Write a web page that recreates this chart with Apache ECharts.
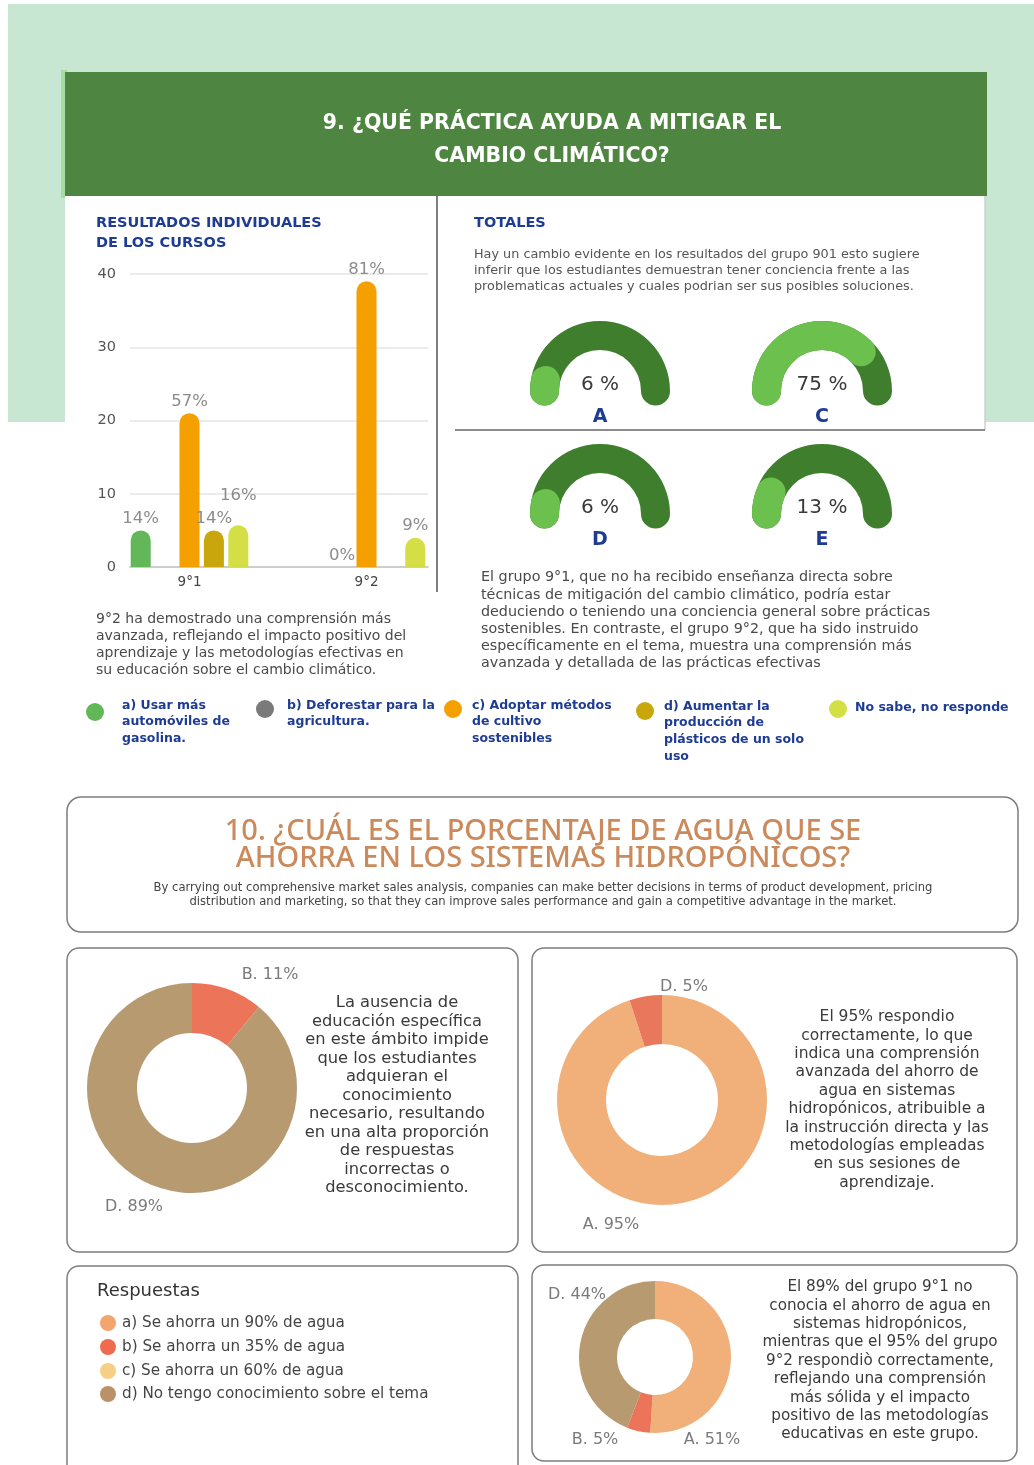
<!DOCTYPE html>
<html>
<head>
<meta charset="utf-8">
<script src="https://cdn.jsdelivr.net/npm/echarts@6/dist/echarts.min.js"></script>
<style>
html,body{margin:0;padding:0;background:#ffffff;}
#main{width:1034px;height:1465px;}
</style>
</head>
<body>
<div id="main"></div>
<script>
// ---------- DATA ----------
const categories = ['9°1', '9°2'];
const barSeriesNames = ['a) Usar más automóviles de gasolina.', 'b) Deforestar para la agricultura.', 'c) Adoptar métodos de cultivo sostenibles', 'd) Aumentar la producción de plásticos de un solo uso', 'No sabe, no responde'];
const valuesA = [5, 0];
const valuesB = [0, 0];
const valuesC = [21, 39];
const valuesD = [5, 0];
const valuesE = [5.7, 4];
const labelsA = ['14%', ''];
const labelsB = ['', '0%'];
const labelsC = ['57%', '81%'];
const labelsD = ['14%', ''];
const labelsE = ['16%', '9%'];
const yTicks = [0, 10, 20, 30, 40];

const gaugeNames = ['A', 'C', 'D', 'E'];
const gaugeValues = [6, 75, 6, 13];

const pie1Names = ['B', 'D'];
const pie1Values = [11, 89];
const pie2Names = ['A', 'D'];
const pie2Values = [95, 5];
const pie3Names = ['A', 'B', 'D'];
const pie3Values = [51, 5, 44];

const respuestas = ['a) Se ahorra un 90% de agua', 'b) Se ahorra un 35% de agua', 'c) Se ahorra un 60% de agua', 'd) No tengo conocimiento sobre el tema'];

// ---------- STYLE ----------
const FONT = '"DejaVu Sans", "Noto Sans", sans-serif';
const NAVY = '#1f3c94';
const barColors = ['#62b858', '#7a7a7a', '#f4a000', '#c9a60c', '#d3df45'];
const pieColors = { A: '#f1b079', B: '#ec7458', D: '#b89a71' };
const pie2Colors = { A: '#f1b079', D: '#e9775c' };
const respColors = ['#f2a66e', '#ee6b4d', '#f6cf86', '#ba9169'];

function T(x, y, text, opt) {
  opt = opt || {};
  return {
    type: 'text', x: x, y: y, z: 100,
    style: {
      text: text,
      fill: opt.fill || '#444',
      font: (opt.weight || 'normal') + ' ' + (opt.size || 13) + 'px ' + (opt.family || FONT),
      align: opt.align || 'left',
      verticalAlign: opt.va || 'top',
      lineHeight: opt.lh || Math.round((opt.size || 13) * 1.3)
    }
  };
}
function R(x, y, w, h, opt) {
  opt = opt || {};
  return {
    type: 'rect', z: (opt.z !== undefined ? opt.z : -5),
    shape: { x: x, y: y, width: w, height: h, r: opt.r || 0 },
    style: { fill: opt.fill || 'none', stroke: opt.stroke || null, lineWidth: opt.lw || 0 }
  };
}
function L(x1, y1, x2, y2, color, w) {
  return { type: 'line', z: -2, shape: { x1: x1, y1: y1, x2: x2, y2: y2 }, style: { stroke: color, lineWidth: w } };
}
function C(cx, cy, r, color) {
  return { type: 'circle', z: 50, shape: { cx: cx, cy: cy, r: r }, style: { fill: color } };
}

const graphics = [
  R(8, 4, 1026, 418, { fill: '#c7e7d3', z: -10 }),
  R(61, 70, 6, 128, { fill: '#a6dca0', z: -9 }),
  R(65, 72, 922, 124, { fill: '#4e8540', z: -8 }),
  R(65, 196, 920, 560, { fill: '#ffffff', z: -8 }),
  L(985, 196, 985, 430, '#cfcfcf', 1.5),
  L(437, 196, 437, 592, '#555555', 1.5),
  L(455, 430, 985, 430, '#666666', 1.5),
  T(552, 140, '9. ¿QUÉ PRÁCTICA AYUDA A MITIGAR EL\nCAMBIO CLIMÁTICO?', { fill: '#ffffff', weight: 'bold', size: 20.5, align: 'center', va: 'middle', lh: 33 }),
  T(96, 213, 'RESULTADOS INDIVIDUALES\nDE LOS CURSOS', { fill: NAVY, weight: 'bold', size: 14.5, lh: 20 }),
  T(474, 213, 'TOTALES', { fill: NAVY, weight: 'bold', size: 14.5, lh: 20 }),
  T(474, 247, 'Hay un cambio evidente en los resultados del grupo 901 esto sugiere\ninferir que los estudiantes demuestran tener conciencia frente a las\nproblematicas actuales y cuales podrian ser sus posibles soluciones.', { size: 12.8, lh: 16, fill: '#555' }),
  T(96, 611, '9°2 ha demostrado una comprensión más\navanzada, reflejando el impacto positivo del\naprendizaje y las metodologías efectivas en\nsu educación sobre el cambio climático.', { size: 14, lh: 17, fill: '#4a4a4a' }),
  T(481, 569, 'El grupo 9°1, que no ha recibido enseñanza directa sobre\ntécnicas de mitigación del cambio climático, podría estar\ndeduciendo o teniendo una conciencia general sobre prácticas\nsostenibles. En contraste, el grupo 9°2, que ha sido instruido\nespecíficamente en el tema, muestra una comprensión más\navanzada y detallada de las prácticas efectivas', { size: 14.3, lh: 17.2, fill: '#4a4a4a' }),
  // legend row
  C(95, 712, 9, barColors[0]), T(122, 697, 'a) Usar más\nautomóviles de\ngasolina.', { fill: NAVY, weight: 'bold', size: 12.5, lh: 16.5 }),
  C(265, 709, 9, barColors[1]), T(287, 697, 'b) Deforestar para la\nagricultura.', { fill: NAVY, weight: 'bold', size: 12.5, lh: 16.5 }),
  C(453, 709, 9, barColors[2]), T(472, 697, 'c) Adoptar métodos\nde cultivo\nsostenibles', { fill: NAVY, weight: 'bold', size: 12.5, lh: 16.5 }),
  C(645, 711, 9, barColors[3]), T(664, 698, 'd) Aumentar la\nproducción de\nplásticos de un solo\nuso', { fill: NAVY, weight: 'bold', size: 12.5, lh: 16.8 }),
  C(838, 709, 9, barColors[4]), T(855, 699, 'No sabe, no responde', { fill: NAVY, weight: 'bold', size: 12.5, lh: 16.5 }),
  // section 10
  R(67, 797, 951, 135, { stroke: '#7d7d7d', lw: 1.5, r: 14, fill: '#ffffff' }),
  T(543, 818, '10. ¿CUÁL ES EL PORCENTAJE DE AGUA QUE SE\nAHORRA EN LOS SISTEMAS HIDROPÓNICOS?', { fill: '#cb8a5c', weight: '500', size: 29, family: '"Noto Sans", sans-serif', align: 'center', lh: 27 }),
  T(543, 881, 'By carrying out comprehensive market sales analysis, companies can make better decisions in terms of product development, pricing\ndistribution and marketing, so that they can improve sales performance and gain a competitive advantage in the market.', { fill: '#444', size: 11.6, align: 'center', lh: 14 }),
  R(67, 948, 451, 304, { stroke: '#7d7d7d', lw: 1.5, r: 12, fill: '#ffffff' }),
  R(532, 948, 485, 304, { stroke: '#7d7d7d', lw: 1.5, r: 12, fill: '#ffffff' }),
  R(67, 1266, 451, 215, { stroke: '#7d7d7d', lw: 1.5, r: 12, fill: '#ffffff' }),
  R(532, 1265, 485, 196, { stroke: '#7d7d7d', lw: 1.5, r: 12, fill: '#ffffff' }),
  T(397, 994, 'La ausencia de\neducación específica\nen este ámbito impide\nque los estudiantes\nadquieran el\nconocimiento\nnecesario, resultando\nen una alta proporción\nde respuestas\nincorrectas o\ndesconocimiento.', { size: 16.3, lh: 18.5, align: 'center', fill: '#3a3a3a' }),
  T(887, 1008, 'El 95% respondio\ncorrectamente, lo que\nindica una comprensión\navanzada del ahorro de\nagua en sistemas\nhidropónicos, atribuible a\nla instrucción directa y las\nmetodologías empleadas\nen sus sesiones de\naprendizaje.', { size: 15.5, lh: 18.4, align: 'center', fill: '#3a3a3a' }),
  T(880, 1278, 'El 89% del grupo 9°1 no\nconocia el ahorro de agua en\nsistemas hidropónicos,\nmientras que el 95% del grupo\n9°2 respondiò correctamente,\nreflejando una comprensión\nmás sólida y el impacto\npositivo de las metodologías\neducativas en este grupo.', { size: 15.2, lh: 18.4, align: 'center', fill: '#3a3a3a' }),
  T(97, 1280, 'Respuestas', { size: 18, fill: '#333', lh: 22 })
];
respuestas.forEach(function (t, i) {
  const yy = [1323, 1347, 1371, 1394][i];
  graphics.push(C(108, yy, 8, respColors[i]));
  graphics.push(T(122, yy, t, { size: 15.2, va: 'middle', fill: '#444' }));
});

// ---------- BAR SERIES ----------
const barValueSets = [valuesA, valuesB, valuesC, valuesD, valuesE];
const barLabelSets = [labelsA, labelsB, labelsC, labelsD, labelsE];
const barSeries = barValueSets.map(function (vals, s) {
  const labs = barLabelSets[s];
  return {
    type: 'bar', name: barSeriesNames[s], xAxisIndex: 0, yAxisIndex: 0,
    barWidth: 20, barGap: '22%',
    itemStyle: { color: barColors[s], borderRadius: [10, 10, 0, 0] },
    label: {
      show: true, position: 'top', distance: 3, color: '#8c8c8c', fontSize: 16.5, fontFamily: FONT,
      formatter: function (p) { return labs[p.dataIndex]; }
    },
    data: vals.map(function (v, i) {
      if (s === 4 && i === 0) return { value: v, label: { distance: 21 } };
      return v;
    }),
    z: 10
  };
});
const frameSeries = {
  type: 'bar', xAxisIndex: 1, yAxisIndex: 1, data: categories.map(function () { return 0; }),
  itemStyle: { opacity: 0 }, silent: true, label: { show: false }
};

// ---------- GAUGES ----------
const gaugeCenters = [[600, 391], [822, 391], [600, 514], [822, 514]];
const gaugeSeries = gaugeNames.map(function (n, i) {
  return {
    type: 'gauge', center: gaugeCenters[i], radius: 70, startAngle: 180, endAngle: 0, min: 0, max: 100,
    progress: { show: true, width: 29, roundCap: true, itemStyle: { color: '#6cc04d' } },
    axisLine: { roundCap: true, lineStyle: { width: 29, color: [[1, '#3f7e2d']] } },
    pointer: { show: false }, anchor: { show: false },
    axisTick: { show: false }, splitLine: { show: false }, axisLabel: { show: false },
    title: { show: true, offsetCenter: [0, 26], color: NAVY, fontSize: 19, fontWeight: 'bold', fontFamily: FONT },
    detail: { show: true, offsetCenter: [0, -6], formatter: '{value} %', color: '#3a3a3a', fontSize: 20, fontWeight: 'normal', fontFamily: FONT },
    data: [{ value: gaugeValues[i], name: n }],
    z: 10
  };
});

// ---------- PIES ----------
function pieSeries(names, values, colors, center, radius, labelPos) {
  return {
    type: 'pie', center: center, radius: radius, startAngle: 90, clockwise: true,
    avoidLabelOverlap: false,
    label: { show: true, position: 'outside', formatter: '{b}. {c}%', color: '#7a7a7a', fontSize: 16, fontFamily: FONT },
    labelLine: { show: false },
    labelLayout: function (p) {
      const q = labelPos[p.dataIndex];
      return { x: q[0], y: q[1], align: 'center', verticalAlign: 'middle' };
    },
    itemStyle: { borderWidth: 0 },
    emphasis: { disabled: true },
    data: names.map(function (n, i) { return { name: n, value: values[i], itemStyle: { color: colors[n] } }; }),
    z: 10
  };
}
const pies = [
  pieSeries(pie1Names, pie1Values, pieColors, [192, 1088], [55, 105], [[270, 975], [134, 1207]]),
  pieSeries(pie2Names, pie2Values, pie2Colors, [662, 1100], [56, 105], [[611, 1225], [684, 987]]),
  pieSeries(pie3Names, pie3Values, pieColors, [655, 1357], [38, 76], [[712, 1440], [595, 1440], [577, 1295]])
];

const chart = echarts.init(document.getElementById('main'), null, { renderer: 'canvas' });
chart.setOption({
  animation: false,
  backgroundColor: '#ffffff',
  textStyle: { fontFamily: FONT },
  graphic: { elements: graphics },
  grid: [
    { left: 101, right: 1034 - 455, top: 274, bottom: 1465 - 567 },
    { left: 130, right: 1034 - 428, top: 274, bottom: 1465 - 567 }
  ],
  xAxis: [
    { type: 'category', gridIndex: 0, data: categories, axisLine: { show: false }, axisTick: { show: false },
      axisLabel: { color: '#444', fontSize: 13.5, margin: 8, fontFamily: FONT } },
    { type: 'category', gridIndex: 1, data: categories, axisLine: { show: true, lineStyle: { color: '#c4c4c4', width: 1.5 } },
      axisTick: { show: false }, axisLabel: { show: false } }
  ],
  yAxis: [
    { type: 'value', gridIndex: 0, min: yTicks[0], max: yTicks[yTicks.length - 1], interval: 10, show: false },
    { type: 'value', gridIndex: 1, min: yTicks[0], max: yTicks[yTicks.length - 1], interval: 10,
      axisLine: { show: false }, axisTick: { show: false },
      splitLine: { lineStyle: { color: '#e4e4e4', width: 1.5 } },
      axisLabel: { color: '#555', fontSize: 14.5, margin: 14, fontFamily: FONT } }
  ],
  series: [frameSeries].concat(barSeries, gaugeSeries, pies)
});
</script>
</body>
</html>
